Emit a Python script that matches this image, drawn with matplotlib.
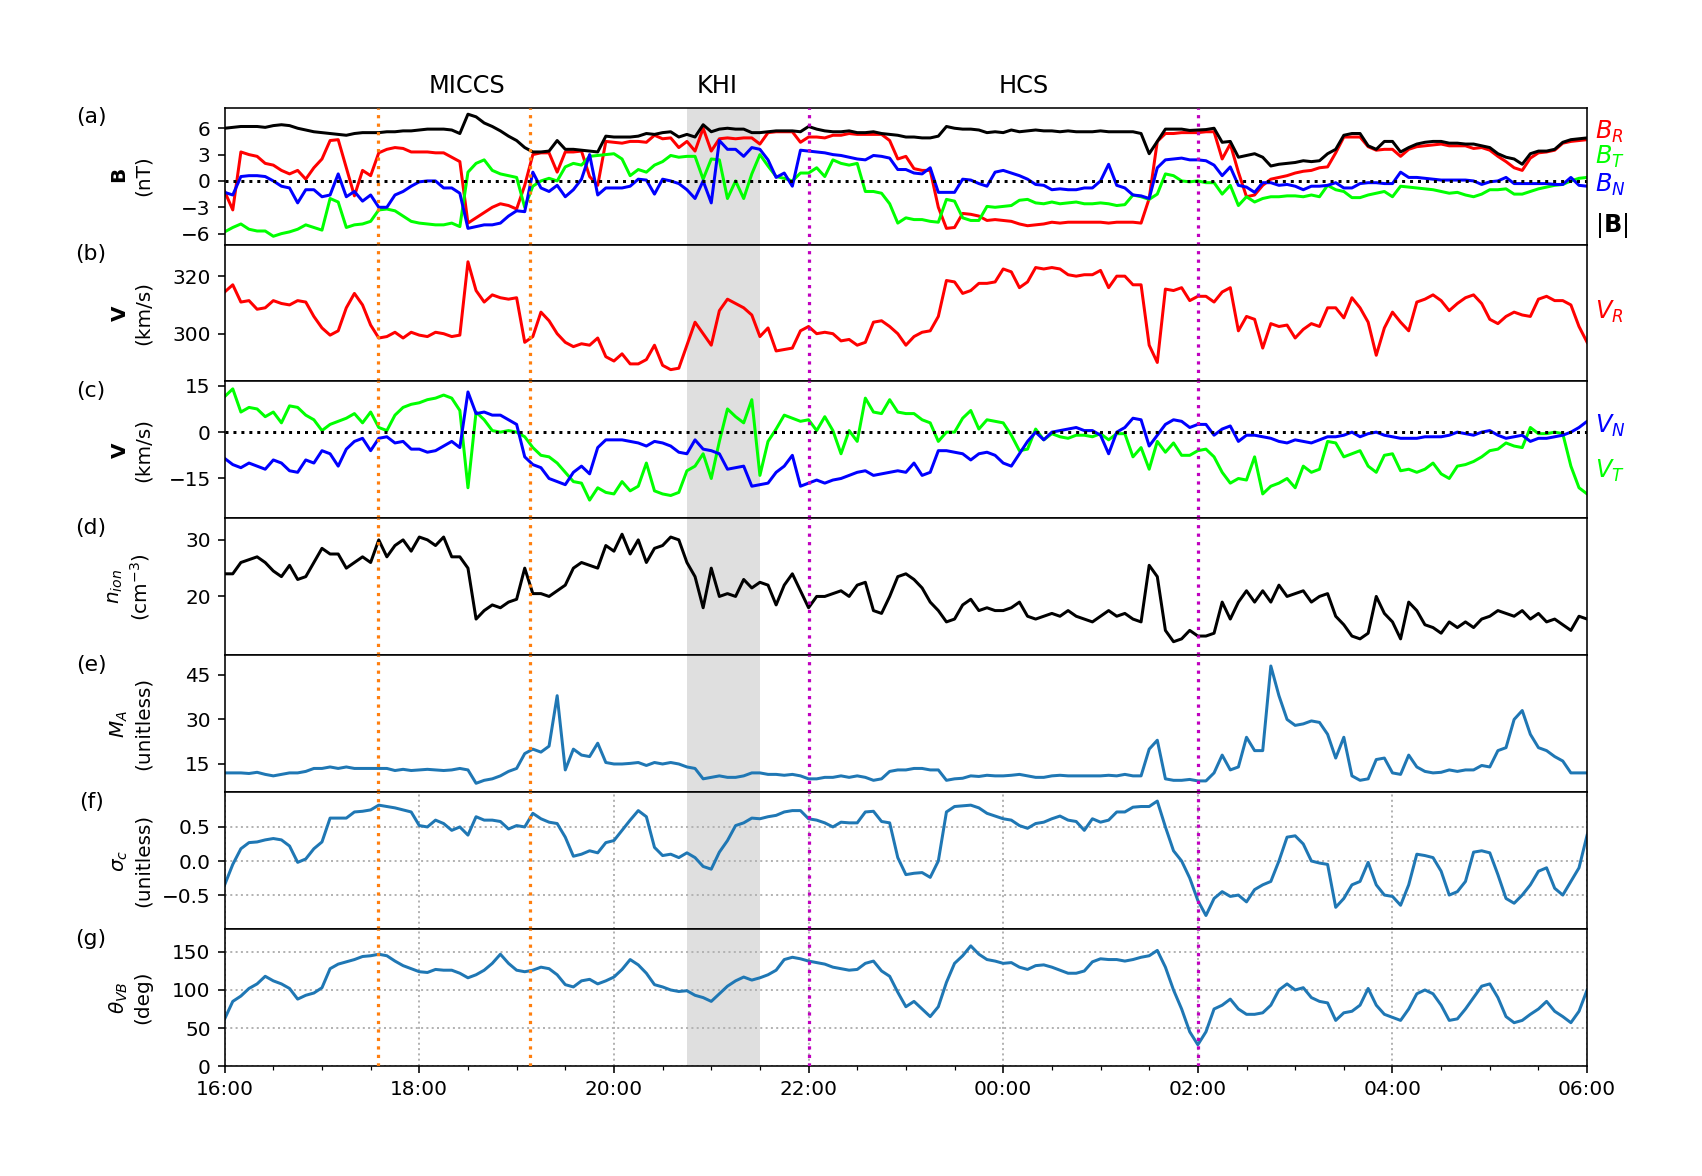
import numpy as np
import matplotlib
matplotlib.use("Agg")
import matplotlib.pyplot as plt

# ---------------- data (5-minute samples from 16:00 to 06:00) ----------------
x_tick_labels = ['16:00', '18:00', '20:00', '22:00', '00:00', '02:00', '04:00', '06:00']
event_labels = ['MICCS', 'KHI', 'HCS']
event_label_hours = [2.49, 5.06, 8.21]
orange_lines_h = [1.578, 3.135]          # 17:35, 19:08
magenta_lines_h = [6.0, 10.0]            # 22:00, 02:00
khi_span_h = [4.75, 5.50]                # 20:45 - 21:30

BR = [-1.2, -3.3, 3.3, 3.0, 2.8, 2.0, 1.8, 1.2, 0.8, 1.2, 0.2, 1.5,
      2.5, 4.6, 4.7, 1.5, -1.7, 1.2, 0.6, 3.2, 3.6, 3.8, 3.7, 3.3,
      3.3, 3.3, 3.2, 3.2, 2.7, 2.2, -4.8, -4.2, -3.6, -3.0, -2.6, -2.8,
      -3.2, -0.5, 3.0, 3.2, 3.2, 1.0, 3.3, 3.3, 3.4, 0.5, -0.5, 4.5,
      4.4, 4.3, 4.5, 4.5, 4.4, 5.2, 4.8, 4.9, 3.8, 4.5, 3.4, 6.0,
      3.4, 4.8, 4.9, 4.8, 4.9, 4.9, 4.2, 5.5, 5.6, 5.6, 5.6, 4.4,
      5.0, 5.0, 4.9, 5.2, 5.2, 5.4, 5.3, 5.3, 5.3, 5.3, 4.6, 2.5,
      2.8, 1.4, 1.2, 1.2, -3.0, -5.4, -5.3, -3.7, -3.8, -4.0, -4.5, -4.4,
      -4.5, -4.6, -4.9, -5.1, -5.0, -4.9, -4.7, -4.8, -4.7, -4.7, -4.7, -4.7,
      -4.7, -4.8, -4.7, -4.7, -4.7, -4.8, -2.0, 4.5, 5.4, 5.4, 5.5, 5.5,
      5.5, 5.6, 5.6, 2.5, 4.2, 1.0, -1.8, -1.6, -0.5, 0.2, 0.4, 0.6,
      0.9, 1.1, 1.2, 1.5, 1.6, 3.2, 5.0, 5.0, 5.0, 3.9, 3.5, 3.6,
      3.6, 2.8, 3.6, 3.9, 4.0, 4.1, 4.2, 4.0, 4.0, 4.0, 3.7, 3.8,
      3.5, 2.8, 2.2, 1.5, 1.2, 2.6, 3.2, 3.3, 3.5, 4.3, 4.5, 4.6, 4.7]

BT = [-5.8, -5.3, -4.9, -5.5, -5.7, -5.7, -6.3, -6.0, -5.8, -5.5, -5.0, -5.3,
      -5.6, -2.0, -2.4, -5.3, -5.0, -4.9, -4.6, -3.3, -3.2, -3.4, -4.0, -4.6,
      -4.8, -4.9, -5.0, -5.0, -4.8, -5.2, 1.0, 2.0, 2.4, 1.2, 0.8, 0.6,
      0.4, -3.0, -0.6, 0.0, 0.3, 0.0, 1.6, 2.0, 1.8, 2.8, 2.9, 3.0,
      3.1, 2.5, 0.6, 1.3, 1.0, 1.8, 2.2, 2.9, 2.7, 2.8, 2.8, 0.2,
      2.5, 2.4, -2.0, 0.0, -2.0, 0.8, 3.0, 1.7, 0.5, 0.3, 0.0, 0.9,
      0.9, 1.5, 0.5, 2.4, 2.0, 1.8, 2.0, -1.2, -1.2, -1.4, -2.6, -4.8,
      -4.2, -4.4, -4.4, -4.6, -4.7, -2.1, -2.3, -4.2, -4.5, -4.5, -2.9, -3.0,
      -2.9, -2.8, -2.2, -2.1, -2.5, -2.6, -2.4, -2.6, -2.5, -2.4, -2.6, -2.6,
      -2.5, -2.6, -2.8, -2.7, -1.6, -1.8, -2.1, -1.5, 0.8, 0.6, 0.0, -0.1,
      0.0, -0.2, -0.2, -1.5, -0.5, -2.8, -1.8, -2.4, -2.0, -1.8, -1.8, -1.7,
      -1.7, -1.8, -1.6, -1.8, -0.5, -1.0, -1.2, -1.9, -1.9, -1.6, -1.4, -1.2,
      -1.8, -0.6, -0.7, -0.8, -0.9, -1.0, -1.2, -1.4, -1.3, -1.6, -1.8, -1.5,
      -1.0, -1.0, -0.9, -1.5, -1.5, -1.2, -0.9, -0.7, -0.5, -0.4, 0.0, 0.3, 0.4]

BN = [-1.3, -1.6, 0.5, 0.6, 0.6, 0.5, 0.0, -0.6, -0.8, -2.5, -1.0, -1.0,
      -1.8, -1.6, 0.8, -1.8, -1.2, -2.3, -1.6, -3.0, -3.0, -1.6, -1.2, -0.6,
      -0.1, 0.0, 0.0, -0.8, -0.8, -1.4, -5.4, -5.2, -5.0, -5.0, -4.8, -4.0,
      -3.4, -3.5, 1.0, -0.8, -1.2, -0.5, -1.8, -1.0, 0.2, 3.0, -1.6, -0.8,
      -0.8, -0.8, -0.6, 0.2, 0.1, -1.5, 0.2, 0.0, -0.3, -1.0, -2.0, 0.0,
      -2.5, 4.6, 3.6, 3.6, 2.8, 3.8, 3.6, 2.4, 0.4, 0.9, -0.6, 3.5,
      3.4, 3.3, 3.2, 3.0, 2.9, 2.7, 2.5, 2.4, 2.9, 2.8, 2.6, 1.3,
      1.3, 0.9, 0.8, 1.5, -1.3, -1.3, -1.3, 0.2, 0.1, -0.3, -0.6, 1.0,
      1.2, 0.9, 0.6, 0.2, -0.4, -0.5, -1.0, -0.9, -1.0, -1.0, -0.8, -0.8,
      0.0, 1.9, -0.5, -0.8, -1.6, -1.7, -2.0, 1.5, 2.4, 2.5, 2.6, 2.4,
      2.4, 2.3, 1.8, 0.6, 1.6, -0.5, -0.7, -1.3, -0.2, -0.2, -0.5, -0.4,
      -0.6, -1.0, -0.6, -0.6, -0.5, -0.2, -0.8, -0.8, -0.3, -0.2, -0.2, -0.3,
      -0.3, 1.0, 0.4, 0.4, 0.3, 0.2, 0.1, 0.1, 0.1, 0.1, 0.0, -0.4,
      -0.1, 0.0, 0.4, -0.3, -0.3, -0.3, -0.3, -0.3, -0.4, -0.4, 0.4, -0.5, -0.6]

Bmag = [6.0, 6.1, 6.2, 6.2, 6.2, 6.1, 6.3, 6.4, 6.3, 6.0, 5.8, 5.6,
        5.5, 5.4, 5.3, 5.2, 5.4, 5.5, 5.5, 5.5, 5.6, 5.6, 5.7, 5.7,
        5.8, 5.9, 5.9, 5.9, 5.8, 5.4, 7.6, 7.3, 6.6, 6.2, 5.7, 5.1,
        4.6, 3.8, 3.3, 3.3, 3.4, 4.6, 3.6, 3.6, 3.5, 3.4, 3.3, 5.1,
        5.0, 5.0, 5.0, 5.1, 5.4, 5.3, 5.5, 5.6, 5.0, 5.3, 5.0, 6.4,
        5.6, 5.9, 6.0, 5.9, 5.9, 5.5, 5.5, 5.6, 5.7, 5.7, 5.7, 5.6,
        6.2, 5.9, 5.7, 5.6, 5.6, 5.7, 5.5, 5.5, 5.6, 5.4, 5.3, 5.2,
        5.0, 5.0, 4.9, 4.9, 5.1, 6.2, 6.0, 5.9, 5.9, 5.8, 5.5, 5.6,
        5.5, 5.8, 5.6, 5.7, 5.8, 5.7, 5.7, 5.6, 5.7, 5.6, 5.6, 5.6,
        5.7, 5.6, 5.6, 5.6, 5.6, 5.4, 3.1, 4.5, 5.9, 5.9, 5.9, 5.75,
        5.8, 5.85, 6.0, 4.4, 4.5, 2.7, 2.9, 3.1, 2.7, 1.7, 1.9, 2.0,
        2.1, 2.3, 2.2, 2.3, 3.1, 3.6, 5.2, 5.4, 5.4, 4.0, 3.6, 4.5,
        4.5, 3.3, 3.8, 4.2, 4.4, 4.5, 4.5, 4.3, 4.3, 4.2, 4.2, 4.0,
        3.8, 3.1, 2.7, 2.5, 1.9, 3.1, 3.4, 3.4, 3.6, 4.4, 4.7, 4.8, 4.9]

VR = [314.5, 317.0, 311.0, 311.5, 308.5, 309.0, 311.5, 310.5, 310.0, 311.5, 311.0, 306.0,
      302.0, 299.5, 301.0, 309.0, 314.0, 310.0, 303.0, 298.5, 299.0, 300.5, 298.5, 300.5,
      299.5, 299.0, 300.5, 300.0, 299.0, 299.5, 325.0, 315.0, 311.0, 313.5, 312.5, 312.0,
      312.5, 297.0, 299.0, 307.5, 304.5, 300.0, 297.0, 295.5, 296.5, 296.0, 298.5, 292.0,
      290.5, 293.0, 289.5, 289.5, 291.0, 296.0, 289.0, 287.5, 288.0, 296.0, 304.0, 300.0,
      296.0, 308.0, 312.0, 310.5, 309.0, 306.5, 299.0, 302.0, 294.0, 294.5, 295.0, 301.0,
      302.5, 300.0, 300.5, 300.0, 297.5, 298.0, 296.0, 297.0, 304.0, 304.5, 302.5, 300.0,
      296.0, 299.0, 300.5, 301.0, 306.0, 318.5, 318.0, 314.0, 315.0, 317.5, 317.5, 318.0,
      322.5, 321.5, 316.0, 318.0, 323.0, 322.5, 323.0, 322.5, 320.5, 320.0, 320.5, 320.5,
      322.0, 316.0, 320.0, 320.0, 317.0, 317.0, 296.0, 290.0, 315.5, 315.0, 316.0, 311.5,
      313.0, 313.0, 311.0, 314.5, 316.0, 301.0, 306.0, 305.0, 295.0, 303.5, 302.5, 303.0,
      298.5, 301.5, 303.5, 302.5, 309.0, 309.0, 305.5, 312.5, 309.0, 304.0, 292.5, 302.0,
      307.5, 304.0, 301.0, 311.0, 312.0, 313.5, 311.5, 308.0, 310.5, 312.5, 313.5, 310.5,
      305.0, 303.5, 306.0, 307.5, 306.5, 306.0, 312.0, 313.0, 311.5, 311.5, 310.0, 302.5, 297.0]

VN = [-8.5, -10.5, -11.5, -10.0, -11.0, -12.0, -9.0, -10.0, -12.5, -13.0, -9.0, -10.0,
      -6.0, -7.0, -11.0, -5.5, -3.0, -2.0, -6.0, -2.0, -1.5, -3.5, -3.0, -5.5,
      -5.5, -6.5, -6.0, -4.5, -3.0, -5.0, 13.0, 6.0, 6.5, 5.5, 5.5, 4.0,
      2.5, -8.0, -10.5, -11.5, -15.0, -16.0, -17.0, -13.0, -11.0, -13.5, -5.0, -2.5,
      -2.5, -2.5, -3.0, -3.5, -4.5, -3.0, -3.5, -4.5, -6.5, -7.0, -2.5, -5.5,
      -6.0, -7.0, -12.0, -11.5, -11.0, -17.5, -17.0, -16.5, -13.0, -11.0, -7.5, -17.5,
      -16.5, -15.5, -16.5, -15.5, -15.0, -14.0, -13.0, -12.5, -14.0, -13.5, -13.0, -12.5,
      -13.0, -10.0, -14.0, -13.0, -6.0, -6.0, -6.5, -7.0, -9.0, -7.0, -6.5, -7.5,
      -10.0, -11.0, -7.0, -3.0, 0.0, -2.5, 0.0, 0.5, 1.0, 1.5, 0.5, 0.5,
      -1.0, -7.0, 0.0, 1.5, 4.5, 4.0, -4.5, -1.0, 2.5, 4.0, 3.5, 1.5,
      2.5, 2.5, -1.0, 1.0, 2.0, -3.0, -1.0, -1.0, -1.5, -2.0, -3.0, -3.5,
      -2.5, -3.0, -3.5, -2.5, -1.5, -1.5, -1.0, 0.0, -1.5, -0.5, 0.0, -1.0,
      -1.5, -2.0, -2.0, -2.0, -1.5, -1.5, -1.5, -1.0, 0.0, -0.5, -1.0, 0.0,
      0.5, -1.0, -2.0, -1.5, -1.0, -3.0, -2.0, -2.0, -1.5, -1.0, 0.0, 1.5, 3.5]

VT = [11.5, 14.0, 6.5, 8.0, 7.5, 5.0, 6.5, 3.0, 8.5, 8.0, 5.5, 4.0,
      0.5, 2.5, 3.5, 4.5, 6.0, 3.0, 6.5, 1.5, 0.5, 5.5, 8.0, 9.0,
      9.5, 10.5, 11.0, 12.0, 11.0, 7.0, -18.0, 6.5, 4.0, 0.5, 0.0, 0.5,
      0.0, -1.5, -5.0, -7.5, -8.0, -10.0, -13.0, -16.0, -16.5, -22.0, -18.0, -19.5,
      -20.0, -16.0, -19.0, -17.5, -10.0, -19.0, -20.0, -20.5, -19.5, -12.5, -11.0, -7.0,
      -15.0, -3.0, 7.5, 5.0, 3.0, 10.5, -14.0, -3.0, 1.0, 5.5, 4.5, 3.5,
      4.0, 0.5, 5.0, 0.5, -7.0, 0.5, -3.0, 11.0, 6.5, 6.0, 10.5, 6.5,
      6.0, 6.0, 4.0, 3.0, -3.0, 0.0, 0.0, 4.5, 7.0, 1.0, 4.0, 3.5,
      3.0, -1.0, -6.0, -5.5, 1.0, -2.5, -0.5, -1.5, -2.0, -1.0, -1.0, -1.5,
      -0.5, -2.5, -0.5, -0.5, -8.0, -5.0, -12.0, -3.0, -6.5, -3.5, -7.5, -7.5,
      -6.0, -5.5, -8.0, -13.0, -16.5, -15.0, -15.5, -8.0, -20.0, -17.5, -16.5, -15.0,
      -18.0, -11.0, -13.0, -12.0, -3.0, -3.5, -8.0, -7.0, -6.0, -11.0, -13.0, -7.5,
      -7.0, -12.5, -12.0, -13.0, -12.0, -10.0, -13.5, -15.0, -11.0, -10.5, -9.5, -8.0,
      -6.0, -5.5, -3.5, -4.5, -5.0, 1.5, -0.5, -0.5, 0.0, -0.5, -11.0, -18.0, -20.0]

n_ion = [24.0, 24.0, 26.0, 26.5, 27.0, 26.0, 24.5, 23.5, 25.5, 23.0, 23.5, 26.0,
         28.5, 27.5, 27.5, 25.0, 26.0, 27.0, 26.0, 30.0, 27.0, 29.0, 30.0, 28.0,
         30.5, 30.0, 29.0, 30.5, 27.0, 27.0, 25.0, 16.0, 17.5, 18.5, 18.0, 19.0,
         19.5, 25.0, 20.5, 20.5, 20.0, 21.0, 22.0, 25.0, 26.0, 25.5, 25.0, 29.0,
         28.0, 31.0, 27.5, 30.0, 26.0, 28.5, 29.0, 30.5, 30.0, 26.0, 23.5, 18.0,
         25.0, 20.0, 20.5, 20.0, 23.0, 21.5, 22.5, 22.0, 18.5, 22.0, 24.0, 21.0,
         18.0, 20.0, 20.0, 20.5, 21.0, 20.0, 22.0, 22.5, 17.5, 17.0, 20.0, 23.5,
         24.0, 23.0, 21.5, 19.0, 17.5, 15.5, 16.0, 18.5, 19.5, 17.5, 18.0, 17.5,
         17.5, 18.0, 19.0, 16.5, 16.0, 16.5, 17.0, 16.5, 17.5, 16.5, 16.0, 15.5,
         16.5, 17.5, 16.5, 17.0, 16.0, 15.5, 25.5, 23.5, 14.0, 12.0, 12.5, 14.0,
         13.0, 13.0, 13.5, 19.0, 16.0, 19.0, 21.0, 19.0, 21.0, 19.0, 22.0, 20.0,
         20.5, 21.0, 19.0, 20.0, 20.5, 16.5, 15.0, 13.0, 12.5, 13.5, 20.0, 17.0,
         15.5, 12.5, 19.0, 17.5, 15.0, 14.5, 13.5, 15.5, 14.5, 15.5, 14.5, 16.0,
         16.5, 17.5, 17.0, 16.5, 17.5, 16.0, 17.0, 15.5, 16.0, 15.0, 14.0, 16.5, 16.0]

MA = [12.0, 12.0, 12.0, 11.8, 12.2, 11.5, 11.0, 11.5, 12.0, 12.0, 12.5, 13.5,
      13.5, 14.0, 13.5, 14.0, 13.5, 13.5, 13.5, 13.5, 13.5, 12.8, 13.2, 12.8,
      13.0, 13.2, 13.0, 12.8, 13.0, 13.5, 13.0, 8.5, 9.5, 10.0, 11.0, 12.5,
      13.5, 18.5, 20.0, 19.0, 21.0, 38.0, 13.0, 20.0, 18.0, 17.5, 22.0, 15.5,
      15.0, 15.0, 15.2, 15.5, 14.5, 15.5, 15.0, 15.5, 15.0, 14.0, 13.5, 10.0,
      10.5, 11.0, 10.5, 10.5, 11.0, 12.0, 12.0, 11.5, 11.5, 11.2, 11.5, 11.0,
      10.0, 10.0, 10.5, 10.5, 11.0, 10.5, 11.0, 10.5, 9.5, 10.0, 12.5, 13.0,
      13.0, 13.5, 13.5, 13.0, 13.0, 9.5, 10.0, 10.2, 11.0, 10.8, 11.2, 11.0,
      11.0, 11.2, 11.5, 11.0, 10.5, 10.5, 11.0, 11.2, 11.0, 11.0, 11.0, 11.0,
      11.0, 11.2, 11.0, 11.5, 11.0, 11.0, 20.0, 23.0, 10.0, 9.5, 9.5, 9.8,
      9.3, 9.3, 12.0, 18.0, 13.0, 14.0, 24.0, 19.5, 19.5, 48.0, 38.0, 30.0,
      28.0, 28.5, 29.5, 29.0, 25.0, 17.0, 24.0, 11.0, 9.5, 10.0, 16.5, 17.0,
      12.0, 11.5, 18.0, 14.0, 12.5, 12.0, 12.2, 13.0, 12.5, 13.0, 13.0, 14.5,
      14.0, 19.5, 20.5, 30.0, 33.0, 25.0, 20.5, 19.5, 17.5, 16.0, 12.0, 12.0, 12.0]

sigma_c = [-0.35, -0.05, 0.18, 0.27, 0.28, 0.31, 0.33, 0.31, 0.22, -0.02, 0.03, 0.18,
           0.28, 0.63, 0.63, 0.63, 0.72, 0.73, 0.75, 0.82, 0.80, 0.78, 0.75, 0.72,
           0.52, 0.50, 0.60, 0.55, 0.45, 0.50, 0.38, 0.65, 0.60, 0.60, 0.58, 0.47,
           0.52, 0.50, 0.70, 0.62, 0.57, 0.55, 0.35, 0.07, 0.10, 0.15, 0.12, 0.27,
           0.30, 0.45, 0.60, 0.74, 0.65, 0.20, 0.08, 0.10, 0.05, 0.12, 0.05, -0.08,
           -0.12, 0.13, 0.30, 0.52, 0.56, 0.63, 0.62, 0.65, 0.67, 0.72, 0.74, 0.74,
           0.62, 0.60, 0.56, 0.50, 0.57, 0.56, 0.56, 0.72, 0.73, 0.58, 0.56, 0.05,
           -0.20, -0.18, -0.17, -0.24, 0.00, 0.72, 0.80, 0.81, 0.82, 0.78, 0.70, 0.66,
           0.62, 0.60, 0.52, 0.48, 0.55, 0.57, 0.62, 0.66, 0.60, 0.58, 0.45, 0.62,
           0.57, 0.60, 0.72, 0.72, 0.79, 0.80, 0.80, 0.88, 0.50, 0.15, 0.00, -0.25,
           -0.58, -0.80, -0.55, -0.45, -0.52, -0.50, -0.60, -0.42, -0.35, -0.30, 0.00, 0.35,
           0.37, 0.25, 0.00, -0.03, -0.05, -0.68, -0.55, -0.35, -0.30, -0.02, -0.35, -0.50,
           -0.52, -0.65, -0.35, 0.10, 0.08, 0.05, -0.15, -0.50, -0.45, -0.30, 0.13, 0.15,
           0.12, -0.20, -0.55, -0.62, -0.50, -0.35, -0.15, -0.10, -0.40, -0.50, -0.30, -0.10, 0.38]

theta_vb = [62, 85, 92, 102, 108, 118, 112, 108, 102, 88, 93, 96,
            103, 128, 134, 137, 140, 144, 145, 147, 145, 138, 132, 128,
            124, 123, 127, 126, 126, 122, 116, 120, 126, 135, 147, 135,
            126, 124, 126, 130, 128, 120, 107, 104, 112, 114, 108, 112,
            117, 127, 140, 133, 122, 107, 104, 100, 98, 99, 93, 90,
            85, 95, 105, 112, 117, 113, 116, 120, 126, 140, 143, 141,
            138, 136, 134, 130, 128, 126, 127, 135, 138, 125, 118, 97,
            78, 85, 75, 65, 78, 110, 135, 145, 158, 147, 140, 138,
            135, 136, 130, 127, 132, 133, 130, 126, 122, 122, 125, 137,
            141, 140, 140, 138, 140, 143, 145, 152, 130, 100, 75, 45,
            28, 45, 75, 80, 88, 75, 68, 68, 70, 80, 100, 108,
            100, 103, 90, 85, 83, 60, 70, 72, 80, 102, 80, 68,
            64, 60, 75, 95, 100, 95, 80, 60, 62, 75, 90, 105,
            108, 90, 65, 57, 60, 68, 75, 85, 72, 65, 57, 72, 100]

# sample times: hours after 16:00, one sample every 5 minutes
t = np.arange(len(BR)) * 5.0 / 60.0

# ---------------- figure ----------------
DPI = 144
fig = plt.figure(figsize=(1702 / DPI, 1176 / DPI), dpi=DPI)
axes = fig.subplots(7, 1, sharex=True)
fig.subplots_adjust(left=0.132, right=0.9325, top=0.9085, bottom=0.0935, hspace=0)

ax_a, ax_b, ax_c, ax_d, ax_e, ax_f, ax_g = axes

ax_a.plot(t, BR, color='r', lw=1.5)
ax_a.plot(t, BT, color='lime', lw=1.5)
ax_a.plot(t, BN, color='b', lw=1.5)
ax_a.plot(t, Bmag, color='k', lw=1.5)
ax_a.axhline(0, color='k', ls=':', lw=1.5)
ax_a.set_ylim(-7.24, 8.35)
ax_a.set_yticks([-6, -3, 0, 3, 6])
ax_a.set_ylabel(r'$\mathbf{B}$' + '\n(nT)')

ax_b.plot(t, VR, color='r', lw=1.5)
ax_b.set_ylim(283.4, 331)
ax_b.set_yticks([300, 320])
ax_b.set_ylabel(r'$\mathbf{V}$' + '\n(km/s)')

ax_c.plot(t, VT, color='lime', lw=1.5)
ax_c.plot(t, VN, color='b', lw=1.5)
ax_c.axhline(0, color='k', ls=':', lw=1.5)
ax_c.set_ylim(-27.9, 16.4)
ax_c.set_yticks([-15, 0, 15])
ax_c.set_ylabel(r'$\mathbf{V}$' + '\n(km/s)')

ax_d.plot(t, n_ion, color='k', lw=1.5)
ax_d.set_ylim(9.6, 33.8)
ax_d.set_yticks([20, 30])
ax_d.set_ylabel(r'$n_{ion}$' + '\n' + r'(cm$^{-3}$)')

ax_e.plot(t, MA, color='tab:blue', lw=1.5)
ax_e.set_ylim(5.5, 51.6)
ax_e.set_yticks([15, 30, 45])
ax_e.set_ylabel(r'$M_A$' + '\n(unitless)')

ax_f.plot(t, sigma_c, color='tab:blue', lw=1.5)
ax_f.set_ylim(-1.0, 1.01)
ax_f.set_yticks([-0.5, 0.0, 0.5])
ax_f.set_ylabel(r'$\sigma_c$' + '\n(unitless)')

ax_g.plot(t, theta_vb, color='tab:blue', lw=1.5)
ax_g.set_ylim(0, 180)
ax_g.set_yticks([0, 50, 100, 150])
ax_g.set_ylabel(r'$\theta_{VB}$' + '\n(deg)')

for ax in (ax_f, ax_g):
    ax.grid(True, which='major', ls=':', color='0.7', lw=1.0)

panel_letters = ['(a)', '(b)', '(c)', '(d)', '(e)', '(f)', '(g)']
for ax, lab in zip(axes, panel_letters):
    ax.axvspan(khi_span_h[0], khi_span_h[1], color='gray', alpha=0.25, lw=0, zorder=0)
    for xv in orange_lines_h:
        ax.axvline(xv, color='tab:orange', ls=':', lw=1.6, zorder=3)
    for xv in magenta_lines_h:
        ax.axvline(xv, color='m', ls=':', lw=1.6, zorder=3)
    ax.text(-0.098, 0.93, lab, transform=ax.transAxes, ha='center', va='center', fontsize=11)
    ax.yaxis.set_label_coords(-0.053, 0.5)
    ax.set_xlim(0, 14)

for ax in axes[:-1]:
    ax.tick_params(axis='x', which='both', bottom=False, labelbottom=False)

ax_g.set_xticks(np.arange(0, 15, 2))
ax_g.set_xticklabels(x_tick_labels)
ax_g.set_xticks(np.arange(0, 14.01, 0.5), minor=True)

# right-hand labels
rl = dict(transform=ax_a.transAxes, ha='left', va='center', fontsize=12)
ax_a.text(1.006, 0.826, r'$B_R$', color='r', **rl)
ax_a.text(1.006, 0.643, r'$B_T$', color='lime', **rl)
ax_a.text(1.006, 0.437, r'$B_N$', color='b', **rl)
ax_a.text(1.006, 0.136, r'$|\mathbf{B}|$', color='k', **rl)
ax_b.text(1.006, 0.508, r'$V_R$', color='r', transform=ax_b.transAxes, ha='left', va='center', fontsize=12)
ax_c.text(1.006, 0.675, r'$V_N$', color='b', transform=ax_c.transAxes, ha='left', va='center', fontsize=12)
ax_c.text(1.006, 0.35, r'$V_T$', color='lime', transform=ax_c.transAxes, ha='left', va='center', fontsize=12)

# event labels on top
for lab, xh in zip(event_labels, event_label_hours):
    ax_a.text(xh, 1.158, lab, transform=ax_a.get_xaxis_transform(), ha='center', va='center', fontsize=12)

fig.savefig('out.png', dpi=DPI)
